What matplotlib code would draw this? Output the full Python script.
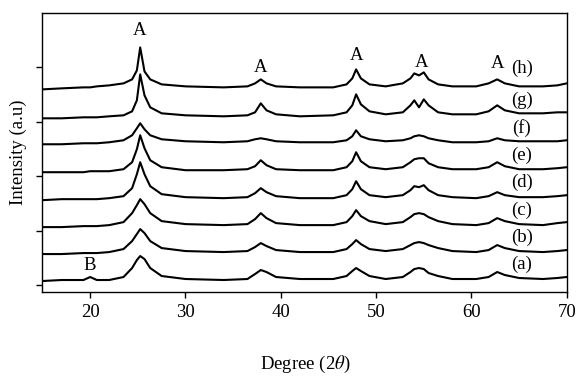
import numpy as np
import matplotlib
matplotlib.use("Agg")
import matplotlib.pyplot as plt

plt.rcParams['font.family'] = ['Liberation Serif', 'DejaVu Serif']
plt.rcParams['mathtext.fontset'] = 'stix'

# 2theta sample points (denser around the peaks)
two_theta = [15, 17, 19.3, 20.0, 20.7, 22, 23.5, 24.4, 24.9, 25.25, 25.7, 26.3,
             27.5, 30, 34, 36.5, 37.3, 37.9, 38.5, 39.5, 42, 45.5, 46.9, 47.5,
             47.9, 48.4, 49.3, 51, 52.8, 53.6, 54.0, 54.5, 55.0, 55.5, 56.5, 58,
             60.5, 61.8, 62.7, 63.5, 65, 67.5, 69, 70]

# stacked intensities (a.u.), already offset as in the figure
trace_a = [4, 5, 5, 8, 5, 5, 8, 17, 25, 29, 26, 17, 9, 6, 5, 6, 11, 15, 13, 8, 6, 6,
           9, 14, 17, 14, 9, 6, 8, 13, 16, 17, 16, 12, 9, 6, 6, 8, 13, 10, 7, 6, 7, 8]
trace_b = [31, 31, 32, 32, 32, 33, 36, 44, 51, 56, 52, 44, 37, 34, 33, 34, 38, 42, 39,
           35, 33, 33, 36, 41, 45, 41, 36, 34, 36, 40, 42, 43, 42, 40, 37, 34, 33, 35,
           40, 37, 34, 33, 34, 35]
trace_c = [58, 58, 59, 59, 59, 60, 63, 72, 80, 86, 81, 72, 64, 61, 60, 61, 66, 72, 67,
           62, 60, 60, 63, 69, 75, 69, 64, 61, 63, 68, 71, 72, 71, 68, 64, 61, 60, 62,
           67, 64, 61, 60, 62, 63]
trace_d = [85, 86, 86, 86, 86, 87, 89, 97, 111, 123, 111, 99, 91, 88, 87, 88, 92, 97,
           93, 89, 87, 87, 90, 96, 104, 96, 90, 88, 90, 95, 99, 98, 100, 95, 90, 88,
           87, 89, 93, 90, 88, 88, 89, 90]
trace_e = [113, 113, 113, 114, 114, 114, 116, 123, 136, 150, 137, 125, 118, 115, 115,
           116, 119, 125, 120, 116, 115, 115, 118, 124, 133, 124, 118, 116, 118, 123,
           126, 127, 127, 122, 118, 116, 116, 118, 123, 119, 116, 116, 117, 118]
trace_f = [141, 141, 142, 142, 142, 143, 145, 150, 157, 162, 156, 150, 146, 144, 143,
           144, 146, 147, 146, 144, 143, 143, 145, 149, 155, 149, 146, 144, 145, 147,
           149, 150, 149, 147, 145, 143, 143, 144, 147, 145, 144, 144, 144, 145]
trace_g = [167, 167, 168, 168, 168, 169, 170, 174, 185, 211, 190, 178, 172, 170, 169,
           170, 173, 182, 175, 171, 169, 170, 173, 180, 191, 181, 174, 171, 173, 180,
           185, 178, 186, 180, 173, 171, 171, 174, 180, 175, 172, 172, 173, 173]
trace_h = [196, 197, 198, 198, 199, 200, 202, 206, 215, 238, 214, 206, 201, 199, 198,
           199, 202, 206, 202, 199, 198, 198, 201, 207, 216, 207, 201, 199, 202, 207,
           212, 210, 213, 206, 201, 199, 199, 202, 206, 202, 199, 199, 200, 202]

traces = [trace_a, trace_b, trace_c, trace_d, trace_e, trace_f, trace_g, trace_h]
trace_names = ['(a)', '(b)', '(c)', '(d)', '(e)', '(f)', '(g)', '(h)']
name_y = [21, 48, 75, 103, 130, 157, 185, 217]

# phase labels: A = anatase, B = brookite
phase_text = ['A', 'A', 'A', 'A', 'A', 'B']
phase_x = [25.2, 37.9, 47.9, 54.8, 62.7, 20.0]
phase_y = [255, 218, 230, 223, 222, 20]

fig = plt.figure(figsize=(5.79, 3.77), dpi=100)
ax = fig.add_axes([0.0734, 0.2255, 0.9055, 0.740])

for t in traces:
    ax.plot(two_theta, t, color='black', lw=1.5)

for name, yy in zip(trace_names, name_y):
    ax.text(65.3, yy, name, fontsize=13.5, ha='center', va='center')

for s, xx, yy in zip(phase_text, phase_x, phase_y):
    ax.text(xx, yy, s, fontsize=13.5, ha='center', va='center')

ax.set_xlim(15, 70)
ax.set_ylim(-7, 272.5)
ax.set_xticks([20, 30, 40, 50, 60, 70])
ax.set_yticks(np.arange(5) * 54.5)
ax.set_yticklabels([])
ax.tick_params(axis='both', direction='out', length=4, width=1, labelsize=13.5)
ax.tick_params(axis='x', pad=5)
for sp in ax.spines.values():
    sp.set_linewidth(1)

fig.text(0.527, 0.032, 'Degree (2$\\theta$)', fontsize=13.5, ha='center', va='center')
fig.text(0.031, 0.597, 'Intensity (a.u)', fontsize=13.5, ha='center', va='center',
         rotation=90)

fig.savefig('out.png', dpi=100)
